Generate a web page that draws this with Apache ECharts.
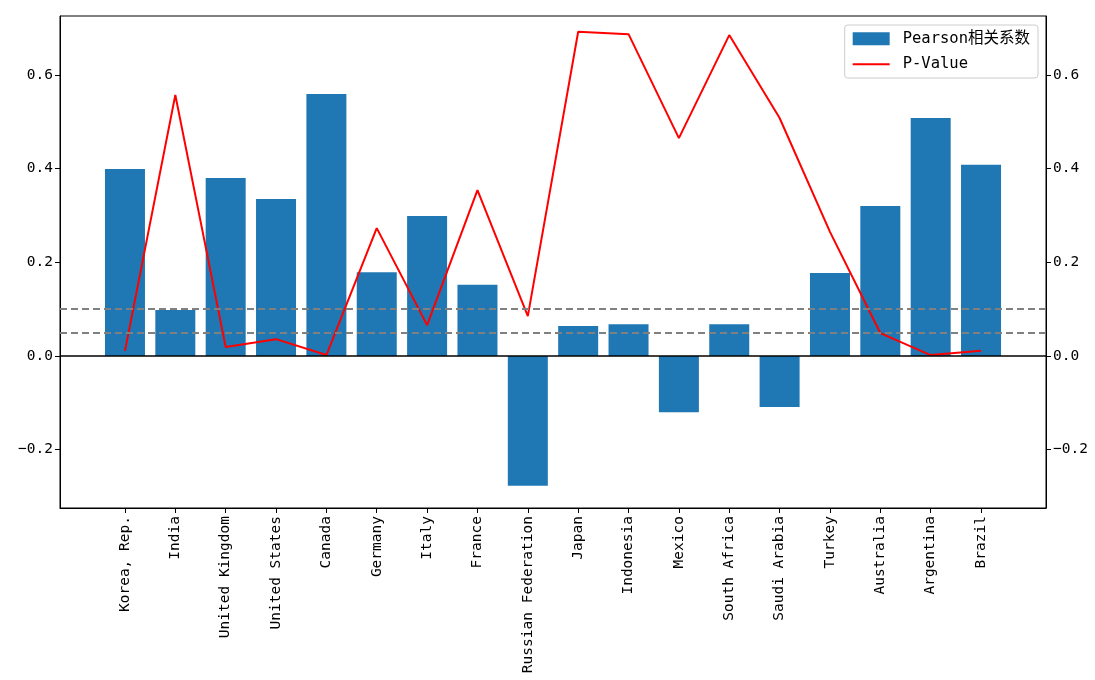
<!DOCTYPE html>
<html>
<head>
<meta charset="utf-8">
<script src="https://cdn.jsdelivr.net/npm/echarts@6/dist/echarts.min.js"></script>
<style>
  html, body { margin: 0; padding: 0; background: #fff; }
  #chart { width: 1095px; height: 680px; }
</style>
</head>
<body>
<div id="chart"></div>
<script>
const countries = ['Korea, Rep.', 'India', 'United Kingdom', 'United States', 'Canada', 'Germany', 'Italy', 'France',
  'Russian Federation', 'Japan', 'Indonesia', 'Mexico', 'South Africa', 'Saudi Arabia', 'Turkey', 'Australia',
  'Argentina', 'Brazil']
const pearson = [0.399, 0.098, 0.38, 0.335, 0.559, 0.179, 0.299, 0.152, -0.277, 0.064, 0.068, -0.12, 0.068, -0.109,
  0.177, 0.32, 0.508, 0.408]
const pValue = [0.011, 0.557, 0.019, 0.036, 0.002, 0.273, 0.066, 0.354, 0.085, 0.692, 0.687, 0.465, 0.685, 0.508,
  0.265, 0.049, 0.002, 0.011]
const yTicks = [-0.2, 0, 0.2, 0.4, 0.6]
const refLines = [0.1, 0.05]

const font = "'DejaVu Sans Mono', 'Noto Sans CJK SC', monospace"
const idx = countries.map((c, i) => i)
const fmtY = v => (v < 0 ? '\u2212' : '') + Math.abs(v).toFixed(1)

const yAxisBase = {
  type: 'value',
  min: -0.3244,
  max: 0.7257,
  axisLine: { show: true, onZero: false, lineStyle: { color: '#000', width: 1 } },
  axisTick: { show: true, customValues: yTicks, length: 5, lineStyle: { color: '#000' } },
  axisLabel: { customValues: yTicks, formatter: fmtY, color: '#000', fontSize: 14.5, fontFamily: font, margin: 7 },
  splitLine: { show: false }
}

const chart = echarts.init(document.getElementById('chart'))
chart.setOption({
  animation: false,
  grid: { left: 60, right: 49, top: 16, bottom: 172, show: true, borderColor: '#000', borderWidth: 1 },
  legend: {
    orient: 'vertical',
    right: 57,
    top: 25,
    itemWidth: 37,
    itemHeight: 13,
    itemGap: 10,
    padding: [6, 8, 6, 7],
    borderColor: '#ccc',
    borderWidth: 1,
    borderRadius: 3,
    textStyle: { fontFamily: font, fontSize: 15.5, color: '#000', padding: [0, 0, 0, 8] },
    data: [
      { name: 'Pearson相关系数', icon: 'rect' },
      { name: 'P-Value', itemStyle: { opacity: 0 } }
    ]
  },
  xAxis: {
    type: 'value',
    min: -1.29,
    max: 18.29,
    axisLine: { show: true, onZero: false, lineStyle: { color: '#000' } },
    axisTick: { show: true, customValues: idx, length: 5, lineStyle: { color: '#000' } },
    axisLabel: {
      customValues: idx,
      rotate: 90,
      formatter: v => countries[Math.round(v)],
      color: '#000',
      fontSize: 14.5,
      fontFamily: font,
      margin: 8
    },
    splitLine: { show: false }
  },
  yAxis: [
    Object.assign({ position: 'left' }, yAxisBase),
    Object.assign({ position: 'right' }, yAxisBase)
  ],
  series: [
    {
      name: 'Pearson相关系数',
      type: 'bar',
      barWidth: 40,
      itemStyle: { color: '#1f77b4' },
      data: pearson.map((v, i) => [i, v])
    },
    {
      name: 'P-Value',
      type: 'line',
      yAxisIndex: 1,
      symbol: 'none',
      lineStyle: { color: '#ff0000', width: 2 },
      itemStyle: { color: '#ff0000' },
      data: pValue.map((v, i) => [i, v]),
      markLine: {
        silent: true,
        symbol: 'none',
        label: { show: false },
        data: refLines.map(v => ({ yAxis: v, lineStyle: { color: '#808080', type: [7, 4], width: 2 } }))
          .concat([{ yAxis: 0, lineStyle: { color: '#000', type: 'solid', width: 1.5 } }])
      }
    }
  ]
})
</script>
</body>
</html>
